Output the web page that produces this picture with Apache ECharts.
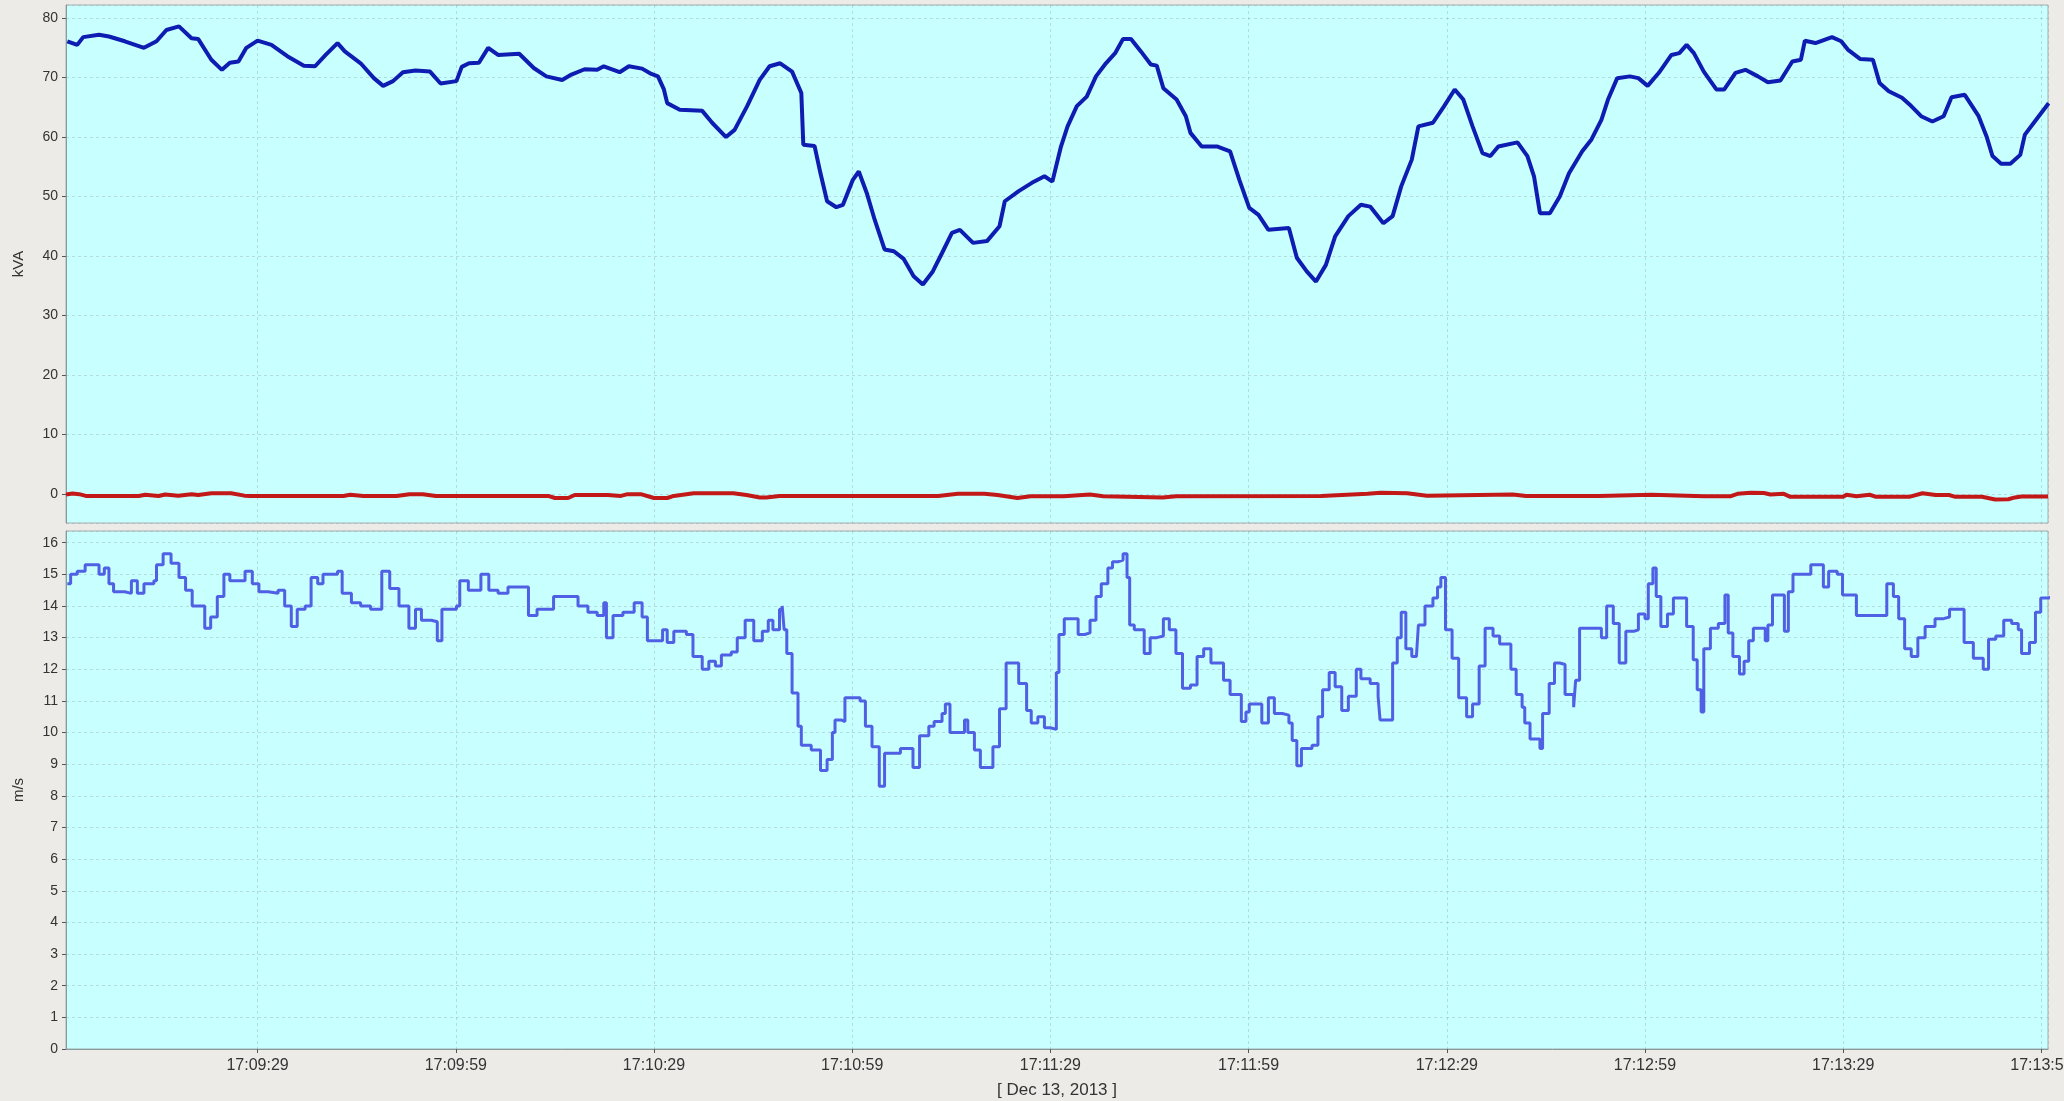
<!DOCTYPE html>
<html>
<head>
<meta charset="utf-8">
<title>kVA / m/s</title>
<script src="https://cdn.jsdelivr.net/npm/echarts@6/dist/echarts.min.js"></script>
<style>
    html, body { margin: 0; padding: 0; background: #ecebe8; }
    #chart { width: 2064px; height: 1101px; }
</style>
</head>
<body>
<div id="chart"></div>
<script>
// [seconds after 17:09:00, value]
const kvaPoints = [
    [0.2,76.1],[1.7,75.5],[2.6,76.8],[5,77.2],[6.5,76.9],[8.9,76.1],[11.8,75.0],[13.7,76.1],[15.2,78.0],[17.1,78.6],
    [19,76.6],[20,76.5],[22,73.0],[23.6,71.3],[24.8,72.5],[26.1,72.7],[27.3,75.0],[29,76.2],[31.1,75.5],[33.5,73.6],
    [36,72.0],[37.7,71.9],[39.3,73.8],[41.1,75.8],[42.2,74.4],[44.6,72.4],[46.6,69.9],[48,68.6],[49.5,69.4],[51,70.9],
    [52.9,71.2],[55.1,71.0],[56.7,69.0],[59.1,69.4],[59.9,71.8],[61,72.4],[62.5,72.5],[63.9,75.0],[65.4,73.8],[68.6,74.0],
    [70.8,71.6],[72.7,70.2],[75.1,69.6],[76.5,70.5],[78.5,71.4],[80.4,71.3],[81.4,71.9],[83.8,70.9],[85.2,71.9],[87.2,71.5],
    [88.6,70.6],[89.6,70.2],[90.5,68.0],[91,65.7],[92.9,64.6],[96.3,64.4],[97.8,62.4],[99.9,60.0],[101.2,61.2],[103.1,65.2],
    [105,69.6],[106.5,71.9],[108.1,72.4],[109.9,71.0],[111.3,67.4],[111.6,58.7],[113.3,58.5],[114.2,53.9],[115.2,49.2],[116.6,48.2],
    [117.6,48.6],[119.1,52.8],[120,54.2],[121.2,50.6],[122.4,46.1],[123.9,41.1],[125.3,40.8],[126.8,39.5],[128.3,36.6],[129.7,35.2],
    [131.2,37.4],[132.6,40.5],[134.1,43.9],[135.3,44.4],[137.3,42.2],[139.4,42.5],[141.3,45.0],[142.1,49.2],[144.2,50.9],[146.2,52.3],
    [148.1,53.4],[149.3,52.5],[150.6,58.4],[151.6,61.8],[153,65.2],[154.5,66.8],[155.9,70.2],[157.4,72.4],[158.8,74.1],[160,76.5],
    [161.2,76.5],[162.7,74.4],[164.2,72.2],[165.1,72.0],[166.1,68.2],[168.1,66.3],[169.5,63.5],[170.2,60.7],[171.9,58.4],[174.3,58.4],
    [176.2,57.6],[177.6,52.8],[179.1,48.1],[180.5,46.9],[182,44.4],[185.1,44.7],[186.3,39.7],[187.8,37.4],[189.2,35.7],[190.7,38.5],
    [192.1,43.3],[194.1,46.7],[196,48.6],[197.4,48.3],[199.4,45.5],[200.8,46.7],[202.1,51.7],[203.7,56.2],[204.7,61.8],[206.9,62.4],
    [208.6,65.2],[210.2,68.0],[211.5,66.3],[212.9,61.8],[214.4,57.3],[215.6,56.8],[216.8,58.4],[219.7,59.1],[221.2,56.8],[222.2,53.4],
    [223.1,47.2],[224.6,47.2],[226.1,50.0],[227.5,53.9],[229.5,57.6],[230.9,59.6],[232.4,62.9],[233.4,66.3],[234.8,69.9],[236.7,70.2],
    [238,69.9],[239.4,68.6],[241.1,70.8],[243,73.8],[244.2,74.1],[245.3,75.5],[246.4,74.1],[247.9,71.0],[249.8,68.0],[251,68.0],
    [252.7,70.8],[254.2,71.3],[256.1,70.2],[257.6,69.2],[259.5,69.5],[261.3,72.7],[262.6,73.0],[263.2,76.2],[264.8,75.8],[267.3,76.8],
    [268.7,76.1],[269.7,74.7],[271.6,73.1],[273.5,73.0],[274.5,69.1],[275.9,67.7],[277.9,66.6],[279.3,65.2],[280.8,63.5],[282.5,62.6],
    [284.2,63.5],[285.4,66.7],[287.4,67.1],[289.5,63.5],[290.7,60.1],[291.6,56.8],[292.9,55.5],[294.3,55.5],[295.8,57.0],[296.5,60.4],
    [298.2,62.9],[300.1,65.7]
];

const kvaRedPoints = [
    [0,-0.1],[1,0.05],[2,-0.05],[3,-0.35],[11,-0.35],[12,-0.15],[14,-0.35],[15,-0.1],[17,-0.3],[19,-0.05],
    [20,-0.2],[22,0.1],[25,0.1],[27,-0.3],[28,-0.35],[42,-0.35],[43,-0.15],[45,-0.35],[50,-0.35],[52,-0.05],
    [54,-0.05],[56,-0.35],[73,-0.35],[74,-0.7],[76,-0.7],[77,-0.2],[82,-0.2],[84,-0.35],[85,-0.05],[87,-0.05],
    [89,-0.7],[91,-0.7],[92,-0.35],[95,0.1],[101,0.1],[103,-0.2],[105,-0.6],[106,-0.6],[108,-0.35],[132,-0.35],
    [135,0],[139,0],[141,-0.2],[144,-0.7],[146,-0.4],[151,-0.4],[155,-0.1],[157,-0.4],[166,-0.6],[168,-0.4],
    [190,-0.35],[197,0],[199,0.2],[203,0.1],[206,-0.3],[219,-0.1],[221,-0.35],[232,-0.35],[240,-0.15],[248,-0.4],
    [252,-0.4],[253,0],[255,0.2],[257,0.15],[258,-0.1],[260,0],[261,-0.5],[269,-0.5],[269.5,-0.15],[271,-0.4],
    [273,-0.15],[274,-0.5],[279,-0.5],[281,0.1],[283,-0.2],[285,-0.2],[286,-0.5],[290,-0.5],[292,-0.95],[294,-0.9],
    [295,-0.6],[296,-0.45],[300,-0.45]
];

const speedPoints = [
    [0.2,14.7],[0.7,15.0],[1.7,15.1],[2.9,15.3],[4.3,15.3],[5,15.0],[5.8,15.2],[6.5,14.7],[7.2,14.45],[8.9,14.4],
    [9.9,14.8],[10.8,14.4],[11.8,14.7],[13.3,14.8],[13.7,15.3],[14.7,15.65],[15.9,15.35],[17.1,14.9],[18.1,14.5],[19.1,14.0],
    [20,14.0],[21,13.3],[21.9,13.65],[22.9,14.3],[23.9,15.0],[24.8,14.8],[26.1,14.8],[27.1,15.1],[28.2,14.7],[29.2,14.45],
    [30.6,14.4],[32.1,14.5],[33.1,14.0],[34.1,13.35],[35,13.9],[36.2,14.0],[37.1,14.9],[38.1,14.7],[38.9,15.0],[40.3,15.0],
    [41.1,15.1],[41.8,14.4],[43.2,14.1],[44.6,14.0],[46.1,13.9],[47.4,13.9],[47.8,15.1],[49,14.55],[50.4,14.0],[51.9,13.3],
    [52.9,13.9],[53.8,13.55],[55.3,13.5],[56.2,12.9],[56.9,13.9],[59.1,14.0],[59.6,14.8],[60.9,14.5],[62.2,14.5],[62.8,15.0],
    [64,14.5],[65.4,14.4],[66.9,14.6],[68.9,14.6],[70,13.7],[71.3,13.9],[73.2,13.9],[73.8,14.3],[76.1,14.3],[77.5,14.0],
    [79,13.8],[80.4,13.7],[81.4,14.1],[81.8,13.0],[82.8,13.7],[84.3,13.8],[86,14.1],[87.2,13.65],[88,12.9],[89.6,12.9],
    [90.3,13.25],[91,12.85],[92,13.2],[93.9,13.1],[94.9,12.4],[96.3,12.0],[97.3,12.25],[98.3,12.1],[99.2,12.45],[100.7,12.55],
    [101.6,13.0],[102.8,13.55],[104.1,12.9],[105.4,13.2],[106.3,13.55],[107,13.25],[108,13.9],[108.4,14.0],[108.7,13.25],[109.1,12.5],
    [109.9,11.25],[110.8,10.2],[111.3,9.6],[112.8,9.45],[114.2,8.8],[115.2,9.15],[116,10.0],[116.4,10.4],[117.3,10.35],[117.9,11.1],
    [120.2,11.0],[121,10.2],[122,9.55],[123.1,8.3],[123.9,9.35],[125.8,9.35],[126.3,9.5],[127.3,9.5],[128.2,8.9],[129.2,9.9],
    [130.6,10.2],[131.4,10.35],[132.6,10.6],[133.1,10.9],[133.8,10.0],[135.5,10.0],[136,10.4],[136.5,10.0],[137.5,9.45],[138.4,8.9],
    [139.4,8.9],[140.3,9.55],[141.3,10.75],[142.3,12.2],[143.4,12.2],[144.2,11.55],[145.4,10.7],[146.1,10.3],[147.1,10.5],[148.1,10.15],
    [149,10.1],[149.9,11.9],[150.3,13.1],[151.1,13.6],[152.2,13.6],[153.2,13.1],[154.2,13.15],[155,13.55],[155.9,14.3],[156.7,14.7],
    [157.7,15.2],[158.4,15.4],[159.3,15.45],[160,15.65],[160.6,14.9],[161,13.4],[161.7,13.25],[163.2,12.5],[164.1,13.0],[165.1,13.05],
    [166.1,13.6],[167,13.25],[168,12.5],[169,11.4],[170.2,11.5],[171.2,12.4],[172.2,12.65],[173.3,12.2],[174.5,12.2],[175.2,11.65],
    [176.2,11.2],[177.4,11.2],[177.9,10.35],[178.6,10.65],[179.1,10.9],[180.3,10.9],[181,10.3],[182,11.1],[182.9,10.6],[184.1,10.55],
    [185.1,10.3],[185.6,9.75],[186.3,8.95],[187,9.5],[188.6,9.6],[189.5,10.5],[190.2,11.35],[191.2,11.9],[192.1,11.45],[193.1,10.7],
    [194.1,11.15],[195.3,12.0],[196,11.7],[197.4,11.55],[198.6,11.15],[198.9,10.4],[200.2,10.4],[200.8,12.2],[201.5,13.0],[202.1,13.8],
    [202.8,12.65],[203.7,12.4],[204.4,12.4],[204.7,13.4],[205.7,14.0],[206.9,14.25],[207.6,14.6],[208.1,14.9],[208.8,13.25],[209.8,12.35],
    [210.8,11.1],[212,10.5],[212.9,10.9],[213.9,12.1],[214.8,13.3],[216,13.05],[217,12.8],[218.2,12.8],[218.7,12.0],[219.5,11.2],
    [220.4,10.8],[220.8,10.3],[221.6,9.8],[223.1,9.5],[223.5,10.6],[224.5,11.55],[225.3,12.2],[226.1,12.15],[226.9,11.2],[228.2,10.8],
    [228.5,11.65],[229.1,13.3],[231.7,13.3],[232.4,13.0],[233.2,14.0],[234.2,13.45],[235.1,12.2],[236.1,13.2],[237.3,13.25],[238,13.75],
    [239,13.6],[239.5,14.7],[240.2,15.2],[240.7,14.3],[241.4,13.35],[242.4,13.75],[243.3,14.25],[244.6,14.25],[245.3,13.35],[246.3,12.3],
    [246.9,11.35],[247.5,10.65],[247.9,12.65],[248.9,13.3],[250.1,13.45],[251.1,14.35],[251.6,13.15],[252.3,12.4],[253.3,11.85],[254,12.25],
    [254.7,12.9],[255.4,13.3],[256.6,13.3],[257.2,12.9],[257.6,13.4],[258.3,14.35],[259.5,14.35],[260.1,13.2],[260.7,14.45],[261.4,15.0],
    [263.1,15.0],[264.1,15.3],[265.3,15.3],[266,14.6],[266.8,15.1],[268.1,15.0],[268.9,14.35],[270.1,14.35],[271,13.7],[274.9,13.7],
    [275.6,14.7],[276.6,14.3],[277.4,13.6],[278.3,12.65],[279.3,12.4],[280.3,13.0],[281.4,13.35],[282.9,13.6],[284.2,13.65],[285.1,13.9],
    [286.5,13.9],[287.3,12.85],[288.7,12.35],[290.2,12.0],[291,12.95],[292.1,13.05],[293.3,13.55],[294.5,13.45],[295.5,13.25],[296,12.5],
    [297.2,12.85],[298.1,13.8],[298.9,14.25],[300,14.3],[301,14.3]
];

// axis extents
const kvaRange = [-4.9, 82.2];
const speedRange = [0, 16.37];
const timeRange = [0, 300];          // seconds after 17:09:00
const clockStart = 17 * 3600 + 9 * 60;
const dateName = '[ Dec 13, 2013 ]';

function pad(n) {
    return (n < 10 ? '0' : '') + n;
}

function clock(x) {
    // x is seconds after 17:08:59
    let s = Math.round(clockStart - 1 + x);
    return pad(Math.floor(s / 3600)) + ':' + pad(Math.floor(s / 60) % 60) + ':' + pad(s % 60);
}

// shift so that the ticks fall on :29 / :59
function shift(points) {
    return points.map(p => [p[0] + 1, p[1]]);
}

let chart = echarts.init(document.getElementById('chart'));

const font = 'Liberation Sans, Arial, sans-serif';
const gridLine = {
    show: true,
    lineStyle: {color: 'rgba(150,172,178,0.42)', type: [3, 3], width: 1}
};

function xAxisFor(gridIndex, withLabels) {
    return {
        type: 'value',
        gridIndex: gridIndex,
        min: timeRange[0] + 1,
        max: timeRange[1] + 1,
        splitNumber: 10,
        minInterval: 30,
        maxInterval: 30,
        axisLine: {show: withLabels, onZero: false, lineStyle: {color: '#8a9a9a'}},
        axisTick: {show: withLabels, length: 4, lineStyle: {color: '#555'}},
        axisLabel: {
            show: withLabels,
            showMinLabel: false,
            showMaxLabel: false,
            margin: 9,
            fontSize: 16,
            fontFamily: font,
            color: '#333',
            formatter: v => clock(v)
        },
        splitLine: gridLine,
        name: withLabels ? dateName : '',
        nameLocation: 'middle',
        nameGap: 33,
        nameTextStyle: {fontSize: 17, fontFamily: font, color: '#333'}
    };
}

let option = {
    animation: false,
    backgroundColor: '#ecebe8',
    grid: [
        {left: 66, right: 16, top: 5, height: 518, outerBoundsMode: 'none', containLabel: false,
            show: true, backgroundColor: '#c8ffff', borderColor: '#a5aeae', borderWidth: 1},
        {left: 66, right: 16, top: 531, height: 518, outerBoundsMode: 'none', containLabel: false,
            show: true, backgroundColor: '#c8ffff', borderColor: '#a5aeae', borderWidth: 1}
    ],
    xAxis: [xAxisFor(0, false), xAxisFor(1, true)],
    yAxis: [
        {
            type: 'value',
            gridIndex: 0,
            min: kvaRange[0],
            max: kvaRange[1],
            splitNumber: 9,
            minInterval: 10,
            maxInterval: 10,
            name: 'kVA',
            nameLocation: 'middle',
            nameGap: 40,
            nameRotate: 90,
            nameTextStyle: {fontSize: 15, fontFamily: font, color: '#333'},
            axisLine: {show: true, lineStyle: {color: '#8a9a9a'}},
            axisTick: {show: true, length: 4, lineStyle: {color: '#555'}},
            axisLabel: {showMinLabel: false, showMaxLabel: false, margin: 8, fontSize: 14, fontFamily: font, color: '#333'},
            splitLine: gridLine
        },
        {
            type: 'value',
            gridIndex: 1,
            min: speedRange[0],
            max: speedRange[1],
            interval: 1,
            name: 'm/s',
            nameLocation: 'middle',
            nameGap: 40,
            nameRotate: 90,
            nameTextStyle: {fontSize: 15, fontFamily: font, color: '#333'},
            axisLine: {show: true, lineStyle: {color: '#8a9a9a'}},
            axisTick: {show: true, length: 4, lineStyle: {color: '#555'}},
            axisLabel: {showMaxLabel: false, margin: 8, fontSize: 14, fontFamily: font, color: '#333'},
            splitLine: gridLine
        }
    ],
    series: [
        {
            type: 'line',
            xAxisIndex: 0,
            yAxisIndex: 0,
            data: shift(kvaRedPoints),
            showSymbol: false,
            lineStyle: {color: '#c21818', width: 4},
            z: 2
        },
        {
            type: 'line',
            xAxisIndex: 0,
            yAxisIndex: 0,
            data: shift(kvaPoints),
            showSymbol: false,
            lineStyle: {color: '#0e1cb2', width: 4},
            z: 3
        },
        {
            type: 'line',
            xAxisIndex: 1,
            yAxisIndex: 1,
            data: shift(speedPoints),
            step: 'end',
            showSymbol: false,
            lineStyle: {color: '#5060e4', width: 3},
            z: 3
        }
    ]
};

option && chart.setOption(option);
</script>
</body>
</html>
